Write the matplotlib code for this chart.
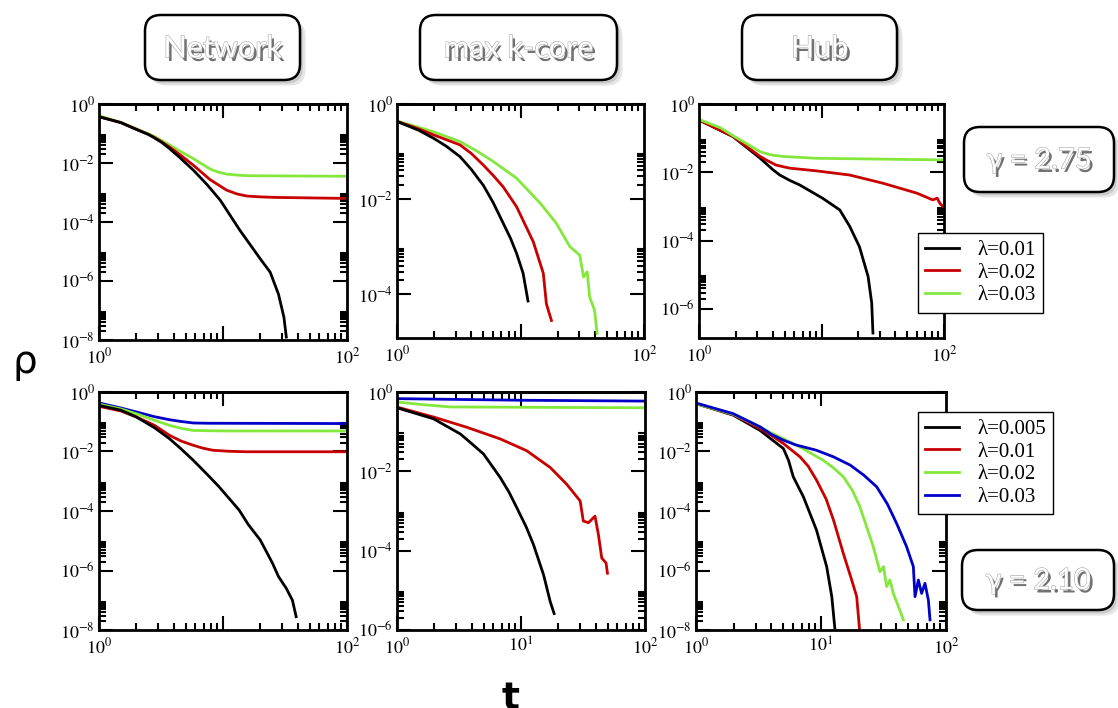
import matplotlib
matplotlib.use("Agg")
import matplotlib.pyplot as plt
import matplotlib.patheffects as pe
from matplotlib.patches import FancyBboxPatch
from matplotlib.ticker import FixedLocator, FixedFormatter, NullFormatter

W, H = 1118, 708
plt.rcParams["mathtext.fontset"] = "stix"
plt.rcParams["font.family"] = ["Liberation Serif", "DejaVu Serif"]

BLACK = "#000000"
RED = "#c80000"
GREEN = "#84e83c"
BLUE = "#0000c8"

# ---- gamma = 2.75, Network ----
net275_t1 = [1, 1.5, 2.0, 2.5, 2.8, 3.2, 3.7, 4.5, 5.75, 7.5, 9.5, 13.7, 20, 24, 28, 31, 32.4]
net275_r1 = [0.37, 0.234, 0.138, 0.093, 0.071, 0.05, 0.031, 0.0151, 5.8e-3, 1.78e-3, 5.5e-4,
             5.2e-5, 5.6e-6, 2.0e-6, 3.6e-7, 5.9e-8, 1.26e-8]
net275_t2 = [1, 1.5, 2.0, 2.5, 2.8, 3.2, 3.7, 4.6, 5.75, 7.85, 10.7, 13, 15.5, 20, 27, 100]
net275_r2 = [0.37, 0.234, 0.138, 0.094, 0.073, 0.052, 0.035, 0.0178, 8.5e-3, 2.75e-3, 1.2e-3,
             8.9e-4, 7.6e-4, 7.1e-4, 6.8e-4, 6.3e-4]
net275_t3 = [1, 1.5, 2.0, 2.8, 3.7, 4.6, 5.75, 7.85, 9, 10.7, 13, 15.8, 100]
net275_r3 = [0.40, 0.24, 0.145, 0.079, 0.041, 0.024, 0.0141, 6.3e-3, 5.0e-3, 4.2e-3, 3.9e-3,
             3.7e-3, 3.55e-3]

# ---- gamma = 2.75, max k-core ----
kc275_t1 = [1, 1.5, 1.98, 2.5, 3.24, 4.0, 5.0, 6.0, 7.25, 8.3, 9.3, 10.5, 11.5]
kc275_r1 = [0.43, 0.28, 0.19, 0.13, 0.078, 0.042, 0.0195, 8.5e-3, 3.1e-3, 1.5e-3, 7.2e-4,
            2.75e-4, 7.2e-5]
kc275_t2 = [1, 1.5, 1.98, 3.24, 4.0, 5.0, 6.0, 7.25, 9.3, 12.7, 15.3, 16.2, 17.8]
kc275_r2 = [0.43, 0.3, 0.224, 0.138, 0.091, 0.052, 0.0316, 0.018, 6.9e-3, 1.26e-3, 2.75e-4,
            6.3e-5, 2.8e-5]
kc275_t3 = [1, 1.98, 3.24, 4.5, 6.0, 9.3, 14.5, 19.5, 25.1, 30.2, 32.4, 34.7, 36.3, 39.8, 41.7]
kc275_r3 = [0.44, 0.26, 0.162, 0.1, 0.062, 0.0275, 8.1e-3, 3.1e-3, 1.0e-3, 6.6e-4, 2.3e-4,
            2.95e-4, 8.7e-5, 4.6e-5, 1.5e-5]

# ---- gamma = 2.75, Hub ----
hub275_t1 = [1, 1.9, 3.16, 4.0, 4.57, 5.5, 6.6, 10.2, 14.1, 17.0, 20.4, 24.0, 25.7, 26.3]
hub275_r1 = [0.34, 0.11, 0.0257, 0.012, 8.3e-3, 5.8e-3, 4.3e-3, 1.74e-3, 7.9e-4, 2.6e-4,
             6.6e-5, 8.9e-6, 1.48e-6, 1.95e-7]
hub275_t2 = [1, 1.9, 3.16, 3.7, 4.27, 5.5, 9.1, 17.0, 31.6, 60, 81, 88, 93, 98]
hub275_r2 = [0.34, 0.112, 0.029, 0.021, 0.0162, 0.0132, 0.011, 8.3e-3, 4.8e-3, 2.45e-3,
             1.55e-3, 1.75e-3, 1.2e-3, 1.0e-3]
hub275_t3 = [1, 1.5, 1.9, 2.5, 3.16, 3.6, 4.0, 4.9, 9.1, 100]
hub275_r3 = [0.355, 0.2, 0.117, 0.066, 0.04, 0.0347, 0.0316, 0.029, 0.0257, 0.023]

# ---- gamma = 2.10, Network ----
net210_t1 = [1, 1.5, 2.0, 2.8, 3.7, 4.5, 5.75, 7.5, 9.3, 13.5, 16, 20, 25.1, 28, 32.4, 36.3, 38.9]
net210_r1 = [0.355, 0.245, 0.145, 0.063, 0.027, 0.0132, 5.1e-3, 1.66e-3, 6.5e-4, 1.07e-4,
             3.5e-5, 1.05e-5, 1.74e-6, 6.3e-7, 2.5e-7, 1.0e-7, 2.8e-8]
net210_t2 = [1, 1.5, 2.0, 2.8, 3.7, 4.6, 5.75, 6.9, 8.3, 11, 15.5, 100]
net210_r2 = [0.33, 0.23, 0.145, 0.076, 0.035, 0.0224, 0.0162, 0.0129, 0.011, 0.0102, 9.8e-3, 9.8e-3]
net210_t3 = [1, 1.5, 2.0, 2.8, 3.7, 4.6, 5.75, 7.5, 10.7, 100]
net210_r3 = [0.39, 0.27, 0.186, 0.112, 0.076, 0.06, 0.051, 0.05, 0.049, 0.049]
net210_t4 = [1, 1.5, 2.0, 2.8, 3.7, 4.6, 5.75, 7.5, 100]
net210_r4 = [0.43, 0.29, 0.214, 0.148, 0.117, 0.102, 0.091, 0.089, 0.087]

# ---- gamma = 2.10, max k-core ----
kc210_t1 = [1, 1.97, 3.24, 4.0, 4.99, 6.8, 8.0, 9.25, 11.0, 12.6, 15.2, 17.2, 18.5]
kc210_r1 = [0.40, 0.211, 0.0877, 0.05, 0.0273, 6.98e-3, 3.0e-3, 1.21e-3, 4.0e-4, 1.43e-4,
            2.47e-5, 5.2e-6, 2.6e-6]
kc210_t2 = [1, 1.97, 3.66, 6.8, 11.1, 17.2, 23.4, 30.0, 31.8, 35.0, 39.5, 42.1, 44.8, 48.5, 49.8]
kc210_r2 = [0.417, 0.234, 0.129, 0.0656, 0.0332, 0.0125, 4.7e-3, 1.79e-3, 5.6e-4, 5.06e-4,
            7.4e-4, 2.55e-4, 6.5e-5, 4.9e-5, 2.7e-5]
kc210_t3 = [1, 1.6, 2.7, 100]
kc210_r3 = [0.56, 0.48, 0.42, 0.40]
kc210_t4 = [1, 10, 100]
kc210_r4 = [0.68, 0.62, 0.59]

# ---- gamma = 2.10, Hub ----
hub210_t1 = [1, 1.99, 3.25, 5.0, 5.5, 6.0, 7.23, 9.2, 11.1, 12.2, 12.9]
hub210_r1 = [0.407, 0.166, 0.0513, 0.0126, 5.0e-3, 1.41e-3, 3.0e-4, 2.3e-5, 1.35e-6, 1.32e-7, 1.15e-8]
hub210_t2 = [1, 1.99, 3.25, 4.0, 5.0, 6.8, 7.9, 9.2, 11.0, 12.6, 15.1, 17.6, 19.3, 20.3]
hub210_r2 = [0.407, 0.174, 0.059, 0.035, 0.0186, 6.6e-3, 3.2e-3, 1.1e-3, 2.5e-4, 4.9e-5,
             3.7e-6, 4.8e-7, 1.32e-7, 1.15e-8]
hub210_t3 = [1, 1.99, 3.25, 4.0, 5.0, 6.8, 10.4, 12.6, 15.1, 17.8, 20.5, 26.2, 29.6, 31.6, 33.5,
             35.6, 37.9, 41.6, 45.6]
hub210_r3 = [0.407, 0.178, 0.0676, 0.042, 0.0269, 0.0141, 5.1e-3, 2.8e-3, 1.41e-3, 5.0e-4,
             1.38e-4, 6.3e-6, 9.1e-7, 1.35e-6, 2.9e-7, 4.8e-7, 1.7e-7, 6.2e-8, 2.2e-8]
hub210_t4 = [1, 1.99, 3.25, 4.0, 5.0, 6.3, 9.2, 12.6, 17.1, 22, 27.9, 34, 40.3, 48.4, 54.8, 56.5,
             60.1, 63.8, 67.9, 72.3, 74.5]
hub210_r4 = [0.427, 0.186, 0.0676, 0.038, 0.024, 0.0166, 0.011, 6.6e-3, 3.5e-3, 1.6e-3, 6.5e-4,
             1.7e-4, 3.8e-5, 6.3e-6, 1.35e-6, 1.32e-7, 4.8e-7, 1.7e-7, 3.7e-7, 1.0e-7, 2.2e-8]

labels_275 = ["λ=0.01", "λ=0.02", "λ=0.03"]
labels_210 = ["λ=0.005", "λ=0.01", "λ=0.02", "λ=0.03"]
column_titles = ["Network", "max k-core", "Hub"]
gamma_labels = ["γ = 2.75", "γ = 2.10"]

fig = plt.figure(figsize=(W / 100, H / 100), dpi=100)


def px_axes(x0, y0, x1, y1):
    return fig.add_axes([x0 / W, 1 - y1 / H, (x1 - x0) / W, (y1 - y0) / H])


def setup(ax, ybottom, yexps, xlab, top_full):
    ax.set_xscale("log")
    ax.set_yscale("log")
    ax.set_xlim(1, 100)
    ax.set_ylim(ybottom, 1)
    ymaj = [10.0 ** e for e in yexps]
    ymin = [k * 10.0 ** e for e in yexps for k in range(2, 10) if ybottom < k * 10.0 ** e < 1]
    ax.yaxis.set_major_locator(FixedLocator(ymaj))
    ax.yaxis.set_major_formatter(FixedFormatter(["$10^{%d}$" % e for e in yexps]))
    ax.yaxis.set_minor_locator(FixedLocator(ymin))
    ax.yaxis.set_minor_formatter(NullFormatter())
    ax.xaxis.set_major_locator(FixedLocator([1, 10, 100]))
    ax.xaxis.set_major_formatter(FixedFormatter(xlab))
    ax.xaxis.set_minor_locator(FixedLocator([k * m for m in (1, 10) for k in range(2, 10)]))
    ax.xaxis.set_minor_formatter(NullFormatter())
    ax.tick_params(which="both", direction="in", width=1.5, top=False, right=True,
                   labelsize=13, pad=3)
    ax.tick_params(axis="x", pad=5)
    ax.tick_params(which="major", length=10)
    ax.tick_params(which="minor", length=5)
    for s in ax.spines.values():
        s.set_linewidth(2.0)
    top = ax.secondary_xaxis("top")
    top.set_xticks([10])
    if top_full:
        top.set_xticks([k * m for m in (1, 10) for k in range(2, 10)], minor=True)
    else:
        top.set_xticks(list(range(2, 10)), minor=True)
    top.xaxis.set_major_formatter(NullFormatter())
    top.xaxis.set_minor_formatter(NullFormatter())
    top.tick_params(which="both", direction="in", width=1.5)
    top.tick_params(which="major", length=10)
    top.tick_params(which="minor", length=5)
    top.spines["top"].set_linewidth(2.0)


lw = 2.0
lab02 = ["$10^{0}$", "", "$10^{2}$"]
lab012 = ["$10^{0}$", "$10^{1}$", "$10^{2}$"]
legend_kw = dict(loc="upper left", bbox_transform=fig.transFigure, borderaxespad=0,
                 fontsize=15, fancybox=False, framealpha=1, edgecolor="black",
                 handlelength=1.6, handletextpad=0.9, labelspacing=0.15, borderpad=0.35)

# top row
ax = px_axes(99, 104, 347, 340)
setup(ax, 1e-8, [0, -2, -4, -6, -8], lab02, True)
ax.plot(net275_t3, net275_r3, color=GREEN, lw=lw)
ax.plot(net275_t2, net275_r2, color=RED, lw=lw)
ax.plot(net275_t1, net275_r1, color=BLACK, lw=lw)

ax = px_axes(397, 104, 644, 338)
setup(ax, 1.2e-5, [0, -2, -4], lab02, True)
ax.plot(kc275_t3, kc275_r3, color=GREEN, lw=lw)
ax.plot(kc275_t2, kc275_r2, color=RED, lw=lw)
ax.plot(kc275_t1, kc275_r1, color=BLACK, lw=lw)

ax = px_axes(699, 104, 944, 338)
setup(ax, 1.4e-7, [0, -2, -4, -6], lab02, True)
h1, = ax.plot(hub275_t1, hub275_r1, color=BLACK, lw=lw)
h2, = ax.plot(hub275_t2, hub275_r2, color=RED, lw=lw)
h3, = ax.plot(hub275_t3, hub275_r3, color=GREEN, lw=lw)
ax.legend([h1, h2, h3], labels_275, bbox_to_anchor=(918 / W, 1 - 233 / H), **legend_kw)

# bottom row
ax = px_axes(99, 392, 347, 630)
setup(ax, 1e-8, [0, -2, -4, -6, -8], lab02, False)
ax.plot(net210_t4, net210_r4, color=BLUE, lw=lw)
ax.plot(net210_t3, net210_r3, color=GREEN, lw=lw)
ax.plot(net210_t2, net210_r2, color=RED, lw=lw)
ax.plot(net210_t1, net210_r1, color=BLACK, lw=lw)

ax = px_axes(397, 392, 645, 630)
setup(ax, 1e-6, [0, -2, -4, -6], lab012, False)
ax.plot(kc210_t4, kc210_r4, color=BLUE, lw=lw)
ax.plot(kc210_t3, kc210_r3, color=GREEN, lw=lw)
ax.plot(kc210_t2, kc210_r2, color=RED, lw=lw)
ax.plot(kc210_t1, kc210_r1, color=BLACK, lw=lw)

ax = px_axes(696, 392, 946, 630)
setup(ax, 1e-8, [0, -2, -4, -6, -8], lab012, False)
g1, = ax.plot(hub210_t1, hub210_r1, color=BLACK, lw=lw)
g2, = ax.plot(hub210_t2, hub210_r2, color=RED, lw=lw)
g3, = ax.plot(hub210_t3, hub210_r3, color=GREEN, lw=lw)
g4, = ax.plot(hub210_t4, hub210_r4, color=BLUE, lw=lw)
ax.legend([g1, g2, g3, g4], labels_210, bbox_to_anchor=(918 / W, 1 - 412 / H), **legend_kw)

# overlay in pixel coordinates for the label boxes
ov = fig.add_axes([0, 0, 1, 1], zorder=10)
ov.set_xlim(0, W)
ov.set_ylim(H, 0)
ov.axis("off")

box_fx = [pe.SimplePatchShadow(offset=(4, -4), shadow_rgbFace="0.6", alpha=0.25),
          pe.SimplePatchShadow(offset=(2, -2.5), shadow_rgbFace="0.55", alpha=0.3),
          pe.Normal()]
txt_fx = [pe.SimplePatchShadow(offset=(2, -2.5), shadow_rgbFace="0.3", alpha=0.8),
          pe.Stroke(linewidth=0.8, foreground="0.65"),
          pe.Normal()]


def label_box(x0, y0, x1, y1, text, size):
    ov.add_patch(FancyBboxPatch((x0, y0), x1 - x0, y1 - y0,
                                boxstyle="round,pad=0,rounding_size=16",
                                facecolor="white", edgecolor="black", lw=1.8,
                                path_effects=box_fx))
    ov.text((x0 + x1) / 2, (y0 + y1) / 2 + 1, text, ha="center", va="center",
            fontsize=size, color="white", family=["Lato", "DejaVu Sans"],
            path_effects=txt_fx)


label_box(145, 15, 300, 80, column_titles[0], 22)
label_box(420, 15, 617, 80, column_titles[1], 22)
label_box(742, 15, 897, 80, column_titles[2], 22)
label_box(964, 127, 1114, 192, gamma_labels[0], 21)
label_box(962, 550, 1114, 610, gamma_labels[1], 21)

fig.text(25 / W, 1 - 362 / H, "ρ", fontsize=28, ha="center", va="center",
         family=["DejaVu Sans"])
fig.text(511 / W, 1 - 709 / H, "t", fontsize=27, ha="center", va="baseline",
         family=["DejaVu Sans"], fontweight="bold")

fig.savefig("out.png", dpi=100)
